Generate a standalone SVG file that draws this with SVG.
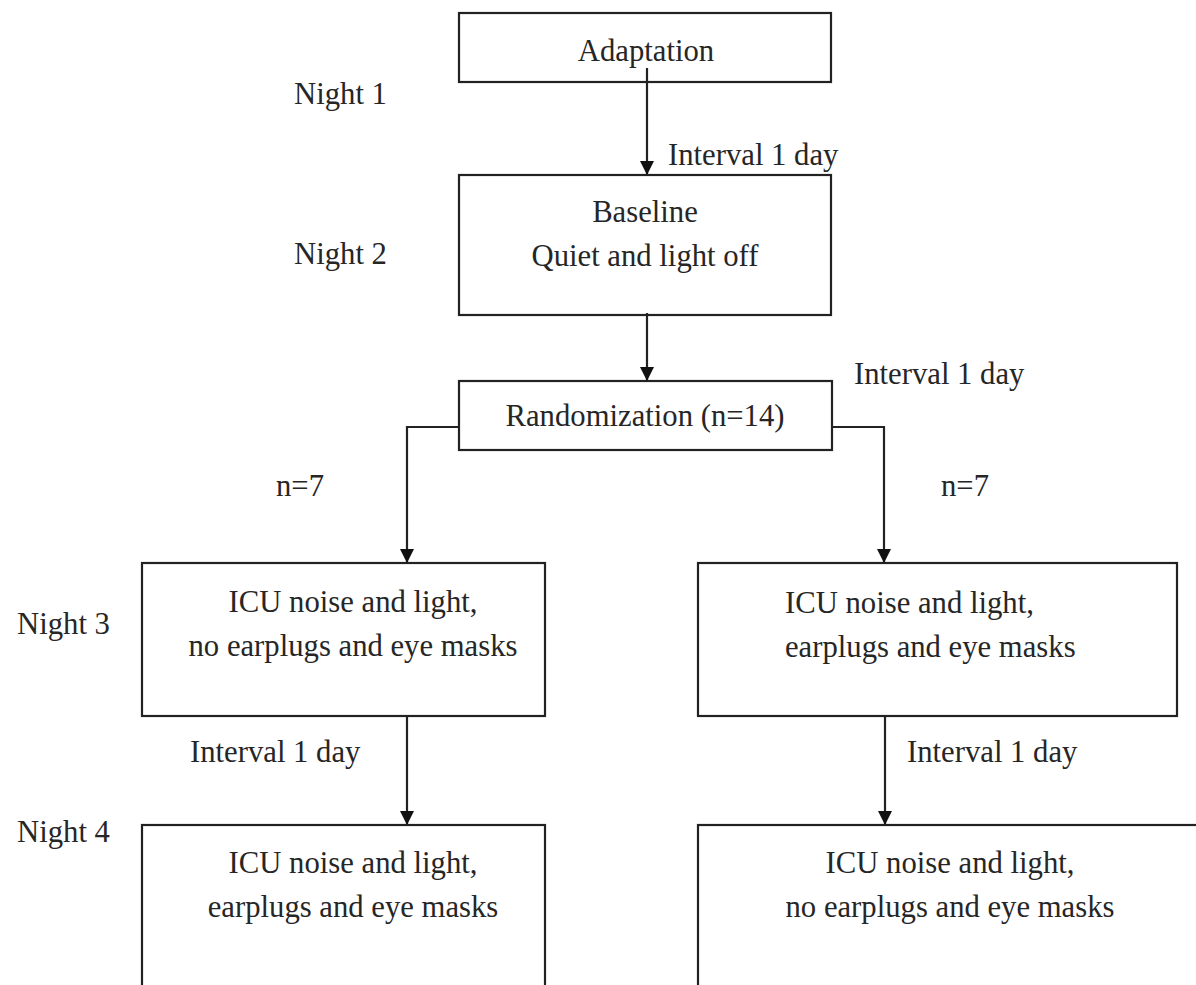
<svg xmlns="http://www.w3.org/2000/svg" width="1196" height="985" viewBox="0 0 1196 985">
<style>
.box{fill:#fff;stroke:#222;stroke-width:2.2}
.ln{fill:none;stroke:#222;stroke-width:2.2}
text{font-size:30.7px;fill:#262626}
.c{text-anchor:middle}
</style>
<defs>
<marker id="ah" viewBox="0 0 14 14" refX="14" refY="7" markerWidth="14" markerHeight="14" markerUnits="userSpaceOnUse" orient="auto">
<path d="M0,0 L14,7 L0,14 Z" fill="#111"/>
</marker>
</defs>
<rect width="1196" height="985" fill="#fff"/>
<g font-family="'Liberation Serif', 'Times New Roman', Tinos, 'DejaVu Serif', serif">
<g id="labels">
<text x="294" y="104">Night 1</text>
<text x="294" y="264">Night 2</text>
<text x="17" y="634">Night 3</text>
<text x="17" y="842">Night 4</text>
<text x="668" y="165">Interval 1 day</text>
<text x="854" y="384">Interval 1 day</text>
<text x="276" y="496">n=7</text>
<text x="941" y="496">n=7</text>
<text x="190" y="762">Interval 1 day</text>
<text x="907" y="762">Interval 1 day</text>
</g>
<g id="adaptation">
<rect class="box" x="459" y="13" width="372" height="69"/>
<text class="c" x="646" y="61">Adaptation</text>
</g>
<g id="baseline">
<rect class="box" x="459" y="175" width="372" height="140"/>
<text class="c" x="645" y="222">Baseline</text>
<text class="c" x="645" y="266">Quiet and light off</text>
</g>
<g id="randomization">
<rect class="box" x="459" y="381" width="373" height="69"/>
<text class="c" x="645" y="426">Randomization (n=14)</text>
</g>
<g id="left-night3">
<rect class="box" x="142" y="563" width="403" height="153"/>
<text class="c" x="353" y="612">ICU noise and light,</text>
<text class="c" x="353" y="656">no earplugs and eye masks</text>
</g>
<g id="right-night3">
<rect class="box" x="698" y="563" width="479" height="153"/>
<text x="785" y="613">ICU noise and light,</text>
<text x="785" y="657">earplugs and eye masks</text>
</g>
<g id="left-night4">
<rect class="box" x="142" y="825" width="403" height="180"/>
<text class="c" x="353" y="873">ICU noise and light,</text>
<text class="c" x="353" y="917">earplugs and eye masks</text>
</g>
<g id="right-night4">
<rect class="box" x="698" y="825" width="520" height="180"/>
<text class="c" x="950" y="873">ICU noise and light,</text>
<text class="c" x="950" y="917">no earplugs and eye masks</text>
</g>
</g>
<g id="connectors">
<path class="ln" d="M647,68 V175" marker-end="url(#ah)"/>
<path class="ln" d="M647,313 V381" marker-end="url(#ah)"/>
<path class="ln" d="M459,427 H407 V563" marker-end="url(#ah)"/>
<path class="ln" d="M832,427 H884 V563" marker-end="url(#ah)"/>
<path class="ln" d="M407,716 V825" marker-end="url(#ah)"/>
<path class="ln" d="M885,716 V825" marker-end="url(#ah)"/>
</g>
</svg>
